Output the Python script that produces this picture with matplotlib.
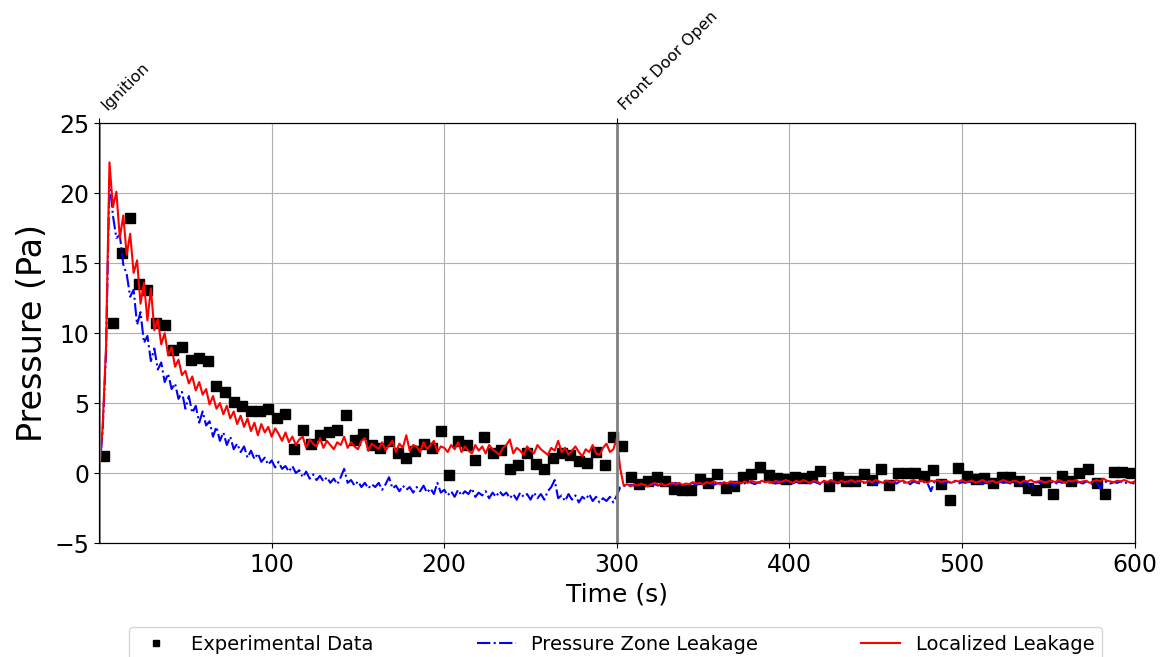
import matplotlib
matplotlib.use("Agg")
import matplotlib.pyplot as plt
import numpy as np


# experimental pressure, one sample every 5 s starting at t = 3 s
exp_time = np.arange(3, 600, 5)
exp_pressure = [
    1.2, 10.7, 15.7, 18.2, 13.5, 13.1, 10.7, 10.6, 8.8, 9.0,
    8.1, 8.2, 8.0, 6.2, 5.8, 5.1, 4.8, 4.4, 4.45, 4.6,
    3.95, 4.2, 1.7, 3.1, 2.07, 2.7, 2.95, 3.1, 4.14, 2.36,
    2.76, 2.0, 1.76, 2.29, 1.45, 1.07, 1.55, 2.07, 1.76, 3.0,
    -0.17, 2.3, 1.98, 0.93, 2.6, 1.45, 1.67, 0.29, 0.57, 1.4,
    0.62, 0.29, 1.1, 1.4, 1.29, 0.88, 0.69, 1.48, 0.55, 2.6,
    1.93, -0.31, -0.81, -0.57, -0.31, -0.6, -1.14, -1.21, -1.21, -0.45,
    -0.69, -0.1, -1.1, -0.93, -0.31, -0.1, 0.45, -0.14, -0.38, -0.45,
    -0.31, -0.38, -0.19, 0.14, -0.9, -0.31, -0.57, -0.57, -0.07, -0.5,
    0.26, -0.84, -0.02, 0.02, 0.02, -0.19, 0.21, -0.8, -1.93, 0.38,
    -0.21, -0.45, -0.38, -0.74, -0.31, -0.31, -0.55, -1.05, -1.24, -0.62,
    -1.48, -0.21, -0.57, -0.02, 0.26, -0.74, -1.48, 0.1, 0.1, -0.02,
]

# model output, every 2 s
model_time = np.arange(0, 601, 2)
localized = [
    0.0, 3.2, 9.0, 22.2, 19.0, 20.1, 16.8, 18.4, 15.6, 17.1,
    14.3, 15.2, 12.1, 13.6, 10.9, 13.2, 10.2, 11.0, 9.2, 10.0,
    8.4, 9.0, 7.6, 8.1, 7.0, 7.3, 6.4, 6.9, 5.9, 6.5,
    5.6, 6.0, 4.9, 5.5, 4.6, 5.0, 4.2, 4.8, 3.9, 4.4,
    3.5, 4.1, 3.3, 3.9, 3.0, 3.6, 2.7, 3.5, 2.9, 3.3,
    2.6, 3.2, 2.8, 2.3, 2.9, 2.2, 2.6, 2.0, 2.4, 2.6,
    1.8, 2.4, 2.1, 1.9, 2.5, 1.8, 2.3, 2.0, 1.7, 2.2,
    2.0, 2.6, 1.8, 2.2, 1.9, 1.7, 2.3, 2.5, 1.6, 2.1,
    1.9, 1.7, 2.2, 1.6, 2.0, 2.3, 1.5, 2.1, 1.8, 2.7,
    1.6, 2.0, 1.9, 1.5, 2.2, 1.7, 2.0, 2.3, 1.5, 1.9,
    1.8, 1.5, 2.0, 1.7, 2.2, 1.5, 1.9, 1.6, 1.4, 2.0,
    1.6, 1.9, 1.4, 2.0, 1.7, 1.5, 1.3, 1.8, 2.0, 2.4,
    1.4, 1.8, 1.6, 1.3, 1.9, 1.6, 1.4, 2.0, 1.7, 1.5,
    1.3, 1.8, 1.6, 2.3, 1.5, 1.8, 1.3, 1.6, 1.9, 1.5,
    1.2, 1.7, 1.5, 2.0, 1.4, 1.3, 1.8, 2.1, 1.5, 1.7,
    2.5,
    0.3, -0.9, -0.8, -0.95, -0.8, -0.9, -0.75, -0.85, -0.95, -0.8,
    -0.7, -0.85, -0.75, -0.9, -0.8, -0.7, -0.8, -0.7, -0.85, -0.75,
    -0.8, -0.65, -0.75, -0.7, -0.8, -0.65, -0.75, -0.6, -0.7, -0.8,
    -0.65, -0.75, -0.6, -0.7, -0.65, -0.75, -0.6, -0.7, -0.55, -0.65,
    -0.7, -0.55, -0.65, -0.6, -0.7, -0.55, -0.65, -0.6, -0.5, -0.6,
    -0.7, -0.55, -0.65, -0.5, -0.6, -0.7, -0.55, -0.6, -0.75, -0.55,
    -0.65, -0.5, -0.6, -0.7, -0.55, -0.65, -0.6, -0.5, -0.65, -0.55,
    -0.6, -0.7, -0.55, -0.65, -0.5, -0.6, -0.7, -0.55, -0.6, -0.65,
    -0.5, -0.6, -0.55, -0.7, -0.6, -0.5, -0.65, -0.55, -0.6, -0.7,
    -0.55, -0.6, -0.5, -0.65, -0.55, -0.6, -0.7, -0.55, -0.6, -0.5,
    -0.65, -0.6, -0.55, -0.7, -0.6, -0.5, -0.65, -0.6, -0.55, -0.7,
    -0.6, -0.5, -0.6, -0.65, -0.55, -0.6, -0.7, -0.55, -0.6, -0.5,
    -0.65, -0.6, -0.55, -0.7, -0.6, -0.55, -0.65, -0.5, -0.6, -0.7,
    -0.55, -0.6, -0.5, -0.65, -0.6, -0.55, -0.7, -0.6, -0.5, -0.6,
    -0.4, -0.55, -0.6, -0.65, -0.55, -0.6, -0.5, -0.6, -0.7, -0.6,
]
zone = [
    0.0, 2.9, 8.6, 21.0, 18.4, 16.8, 17.0, 14.9, 14.2, 12.6,
    13.1, 10.6, 11.5, 9.3, 9.8, 8.0, 8.9, 7.4, 7.9, 6.5,
    7.1, 6.0, 6.4, 5.3, 5.8, 4.6, 5.5, 4.3, 4.8, 3.6,
    4.4, 3.4, 3.7, 2.6, 3.3, 2.3, 2.9, 2.0, 2.6, 1.7,
    2.1, 1.5, 1.9, 1.1, 1.6, 1.0, 1.4, 0.8, 1.1, 0.6,
    0.9, 0.4, 0.8, 0.3, 0.5, 0.1, 0.5, 0.0, 0.2, -0.3,
    0.1, -0.4, -0.1, -0.5, -0.2, -0.6, -0.3, -0.7, -0.4, -0.8,
    -0.3, 0.3, -0.7, -0.5, -0.9, -0.6, -1.0, -0.7, -1.1, -0.8,
    -1.0, -0.7, -1.2, -0.8, -0.3, -1.1, -0.9, -1.3, -0.9, -1.2,
    -1.0, -1.4, -1.0, -1.3, -0.9, -1.4, -1.1, -1.5, -0.7, -1.4,
    -1.2, -1.6, -1.3, -1.7, -1.2, -1.6, -1.3, -1.5, -1.1, -1.7,
    -1.4, -1.6, -1.3, -1.8, -1.4, -1.7, -1.3, -1.6, -1.4, -1.8,
    -1.5, -1.9, -1.4, -1.7, -1.5, -1.9, -1.4, -1.8, -1.5, -1.9,
    -1.3, -1.0, -0.5, -1.8, -1.6, -2.0, -1.5, -1.9, -1.6, -2.1,
    -1.7, -1.9, -1.5, -2.0, -1.7, -2.1, -1.8, -2.0, -1.7, -2.1,
    -1.6,
    -1.0, -0.9, -0.95, -0.85, -0.9, -0.8, -0.9, -0.85, -0.75, -0.85,
    -0.8, -0.9, -0.75, -0.85, -0.95, -0.8, -0.7, -0.85, -0.75, -0.9,
    -0.8, -0.7, -0.85, -0.75, -0.65, -0.8, -0.7, -0.85, -0.75, -0.7,
    -0.8, -0.65, -0.75, -0.9, -0.7, -0.65, -0.75, -0.6, -0.7, -0.8,
    -0.65, -0.75, -0.6, -0.7, -0.65, -0.75, -0.55, -0.7, -0.6, -0.65,
    -0.75, -0.6, -0.7, -0.55, -0.65, -0.75, -0.6, -0.7, -0.8, -0.6,
    -0.7, -0.55, -0.65, -0.75, -0.6, -0.7, -0.65, -0.55, -0.7, -0.6,
    -0.75, -0.65, -0.6, -0.7, -0.8, -0.65, -0.75, -0.6, -0.7, -0.65,
    -0.75, -0.6, -0.7, -0.65, -0.8, -0.6, -0.7, -0.75, -0.65, -0.7,
    -1.3, -0.65, -0.7, -0.6, -0.75, -0.65, -0.7, -0.6, -0.75, -0.65,
    -0.7, -0.6, -0.75, -0.65, -0.7, -0.8, -0.6, -0.7, -0.65, -0.75,
    -0.6, -0.7, -0.65, -0.75, -0.6, -0.7, -0.8, -0.65, -0.7, -1.05,
    -0.7, -0.65, -0.75, -0.6, -0.7, -0.65, -0.8, -0.6, -0.7, -0.65,
    -0.75, -0.6, -0.7, -0.65, -0.75, -0.6, -0.7, -0.8, -0.65, -1.1,
    -0.7, -0.6, -0.75, -0.65, -0.7, -0.6, -0.75, -0.65, -0.7, -0.75,
]

event_times = [0, 300]
event_labels = ["Ignition", "Front Door Open"]


fig = plt.figure(figsize=(11.66, 6.57), dpi=100)
ax = fig.add_axes([0.085, 0.1735, 0.888, 0.639])

ax.plot(exp_time, exp_pressure, "ks", ms=6.5, label="Experimental Data")
ax.plot(model_time, zone, "b-.", lw=1.5, label="Pressure Zone Leakage")
ax.plot(model_time, localized, "r-", lw=1.5, label="Localized Leakage")

for t in event_times:
    ax.axvline(t, color="gray", lw=2)

ax.set_xlim(0, 600)
ax.set_ylim(-5, 25)
ax.set_xticks(range(100, 601, 100))
ax.set_yticks(range(-5, 26, 5))
ax.tick_params(labelsize=17)
ax.grid(True)
ax.set_xlabel("Time (s)", fontsize=18)
ax.set_ylabel("Pressure (Pa)", fontsize=24)

# event markers along the top edge
ax2 = ax.twiny()
ax2.set_xlim(ax.get_xlim())
ax2.set_xticks(event_times)
ax2.set_xticklabels(event_labels, rotation=45, ha="left", fontsize=11.5)

ax.legend(loc="upper left", bbox_to_anchor=(0.0193, -0.277, 0.959, 0.1),
          mode="expand", ncol=3, fontsize=14, numpoints=1, markerscale=0.6)

fig.savefig("out.png", dpi=100)
